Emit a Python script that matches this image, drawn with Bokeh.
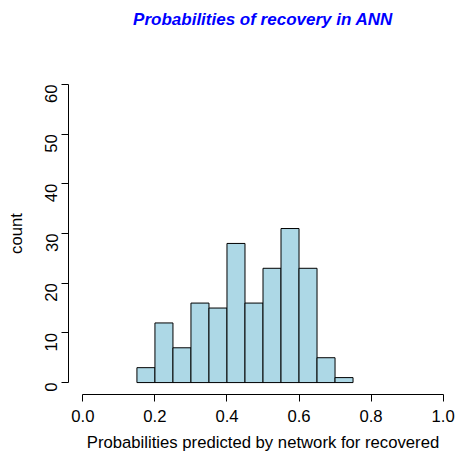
from bokeh.plotting import figure
from bokeh.models import FixedTicker, PrintfTickFormatter, Range1d, Title
from bokeh.embed import file_html
from bokeh.resources import INLINE

# Histogram of predicted recovery probabilities (bin width 0.05)
bin_edges = [0.15, 0.20, 0.25, 0.30, 0.35, 0.40, 0.45, 0.50, 0.55, 0.60, 0.65, 0.70, 0.75]
counts = [3, 12, 7, 16, 15, 28, 16, 23, 31, 23, 5, 1]
x_ticks = [0.0, 0.2, 0.4, 0.6, 0.8, 1.0]
y_ticks = [0, 10, 20, 30, 40, 50, 60]
title_text = "Probabilities of recovery in ANN"

FONT = "Liberation Sans"

p = figure(
    width=459, height=455,
    output_backend="svg", toolbar_location=None,
    x_range=Range1d(-0.04, 1.04), y_range=Range1d(-2.4, 62.4),
    min_border_left=68, min_border_right=2,
    min_border_top=72, min_border_bottom=61,
    title=None,
)
p.outline_line_color = None
p.grid.visible = False
p.background_fill_color = "white"

p.quad(left=bin_edges[:-1], right=bin_edges[1:], bottom=0, top=counts,
       fill_color="#ADD8E6", line_color="black", line_width=1)

# Blank panels keep the title clear of the plotting region
for _ in range(2):
    p.add_layout(Title(text=" ", text_font=FONT, text_font_size="17px",
                       standoff=0), "above")

p.add_layout(Title(
    text=title_text, align="center", vertical_align="top", standoff=0,
    text_color="#0000FF", text_font=FONT,
    text_font_style="bold italic", text_font_size="17px",
), "above")

# Axes
for ax in (p.xaxis[0], p.yaxis[0]):
    ax.major_tick_out = 7
    ax.major_tick_in = 0
    ax.minor_tick_out = 0
    ax.minor_tick_in = 0
    ax.axis_line_color = "black"
    ax.major_tick_line_color = "black"
    ax.major_label_text_font = FONT
    ax.major_label_text_font_size = "16.7px"
    ax.major_label_text_color = "black"
    ax.axis_label_text_font = FONT
    ax.axis_label_text_font_size = "16.7px"
    ax.axis_label_text_font_style = "normal"
    ax.axis_label_text_color = "black"

p.xaxis.ticker = FixedTicker(ticks=x_ticks)
p.xaxis.formatter = PrintfTickFormatter(format="%.1f")
p.xaxis.bounds = (0, 1)
p.xaxis.axis_label = "Probabilities predicted by network for recovered"
p.xaxis.major_label_standoff = 8
p.xaxis.axis_label_standoff = 8

p.yaxis.ticker = FixedTicker(ticks=y_ticks)
p.yaxis.bounds = (0, 60)
p.yaxis.axis_label = "count"
p.yaxis.major_label_orientation = 1.5707963
p.yaxis.major_label_standoff = 10
p.yaxis.axis_label_standoff = 11

open("out.html", "w").write(file_html(p, INLINE))
